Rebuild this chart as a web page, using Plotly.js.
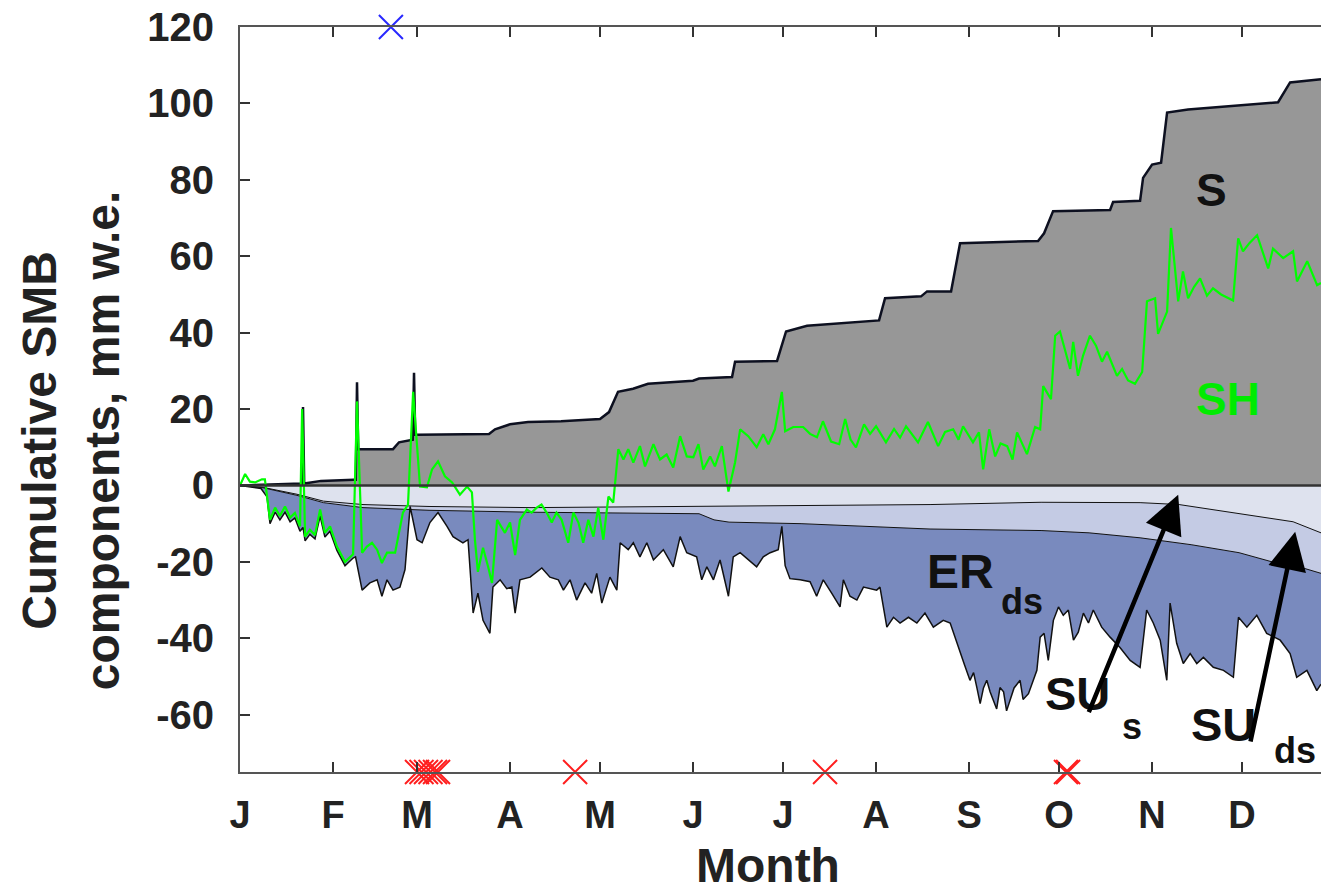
<!DOCTYPE html>
<html>
<head>
<meta charset="utf-8">
<script src="https://cdn.plot.ly/plotly-3.0.1.min.js"></script>
<style>html,body{margin:0;padding:0;background:#fff;}#chart{width:1321px;height:893px;}</style>
</head>
<body>
<div id="chart"></div>
<script>
// ---- data (day of year, mm w.e.) ----
const monthTickDays = [0,31,59,90,120,151,181,212,243,273,304,334];
const monthLabels = ['J','F','M','A','M','J','J','A','S','O','N','D'];
const yTickVals = [-60,-40,-20,0,20,40,60,80,100,120];
const yTickText = ['-60','-40','-20','0','20','40','60','80','100','120'];

// S : cumulative snowfall (grey)
const sDays = [0,18,20,20.6,21,21.4,22,27,38,38.6,39,39.4,40,51,53,57,57.6,58,58.4,59,83,85,90,96,107,120,123,126,131,136,151,153,164,165,179,182,189,213,215,227,229,237,240,266,268,271,290,291,300,301,304,307,309,316,332,346,350,360.3];
const sVals = [0,0.3,0.5,0.5,20.5,0.5,0.6,1.2,1.5,1.5,27,9.5,9.5,9.5,11.3,12,12,29.5,13.3,13.3,13.5,14.7,16,16.6,16.8,17.4,19.2,24.5,25.3,26.6,27.4,28,28.4,32.4,32.6,40.3,41.8,43.2,49,49.5,50.8,50.8,63.4,64,66,71.8,72.1,74.2,74.5,80.5,84,84.5,97.6,98.4,99.5,100.3,105.5,106.3];

// SU_s : cumulative surface sublimation (upper boundary of negative part)
const suSDays = [0,7.7,19,27.8,41,63,97,130,187,230,267,300,313,328,339,351,360.3];
const suSVals = [0,-0.5,-2.3,-4.1,-5,-5.5,-5.8,-5.6,-5.3,-5,-4.4,-4.5,-5,-6.8,-8.1,-9.5,-12.4];

// SU_s + SU_ds : cumulative
const suDsDays = [0,7.7,19,27.8,41,63,97,130,153,158,163,187,230,267,283,300,317,333,344,353,360.3];
const suDsVals = [0,-0.6,-2.6,-4.5,-5.8,-6.5,-7,-7.2,-7.4,-9,-9.6,-10,-11.4,-11.8,-12.4,-13.7,-15.5,-17.6,-20,-21.3,-23];

// SU_s + SU_ds + ER_ds : cumulative (lower jagged boundary)
const totDays = [0,3,7,9,10,11.7,13.3,15,16.7,18.3,20,21,21.7,23.3,25,26.7,28.3,30,32.3,35,37.7,38.5,40.7,43.3,45.7,47.3,49,51,53.3,55,56.7,59,60.7,63.3,66,69,71,74.3,76,77.7,79.3,81,83.3,84.3,86.7,88.9,90.6,91.7,93.3,96.7,100.6,103.3,106.1,107.8,110,112.2,115,117.2,118.9,120.6,123.3,125.6,126.7,129.4,131.1,133.3,135.6,137.8,141.1,144.4,146.7,148.9,152.2,153.9,155.6,157.8,160,162.8,164.4,166.7,169.4,172.2,174.4,176.7,179.4,180.6,181.7,183.3,186.7,190,192.2,194.4,197.2,200,201.1,203.3,205.6,207.8,212.2,213.3,215.6,217.8,220,222.8,225.6,228.3,231.1,234.4,236.7,240,241.5,243.3,244.5,245.6,246.7,247.8,248.9,250,251.1,252.2,253.3,254.5,255.5,256.7,258,260,261,262.8,264,265.6,266.7,268,269.4,271.1,272.8,274.4,276.1,277.8,279.4,281.1,282.8,284.4,287.2,290,293.3,296.7,300,302.2,304.4,306.7,308.9,310,312.2,314.4,316.7,318.9,321.1,324.4,327.8,331.1,332.8,335.6,338.9,342.2,346.7,350,352.2,355.6,358.9,360.3];
const totVals = [0,-0.3,-0.8,-3,-10,-7,-9,-7,-9.5,-8.5,-12,-11,-14.5,-12.8,-14,-8,-13.5,-12,-17,-21,-19,-18.7,-27.4,-25.5,-24.7,-29,-24.7,-27.4,-26.6,-22,-5.5,-14.2,-15,-9.7,-7.1,-10.7,-13.4,-15,-14.2,-33.4,-28.2,-35.3,-38.7,-26.6,-24.7,-27,-26.6,-33.4,-24.7,-24,-21.6,-24,-24.7,-27.4,-24.7,-30,-25.5,-28.2,-23,-30.8,-24,-27.4,-15,-16.8,-15,-18.7,-15,-19.5,-16.8,-21.3,-13.4,-17.6,-18.7,-24.7,-21.3,-24.7,-19.5,-29,-18.7,-17.6,-19.5,-21.3,-18.7,-17.6,-16.8,-10.7,-21,-24.4,-24.7,-25.2,-29,-24.7,-28.2,-31.8,-24.7,-29,-30,-26.6,-27.4,-26.6,-37.1,-34.5,-36,-34.5,-36,-33.4,-37.1,-35.3,-36,-44,-47,-51,-49,-52.9,-57.1,-53,-51,-54,-56.3,-58.5,-52.9,-54,-59,-56.3,-53,-51,-56,-54.5,-52,-48.4,-39.7,-38.7,-45.8,-35.3,-31.8,-34,-32.6,-40.5,-38.4,-33.4,-36,-32.6,-37.1,-39.7,-42.4,-45.8,-47.6,-32.6,-36,-40.5,-51,-30.8,-41.3,-46.6,-44,-46.6,-45,-47.6,-48.4,-50.2,-34.5,-37.1,-34,-38.7,-40.5,-44,-50.2,-48.4,-53.7,-52];

// SH : surface height change (green)
const shDays = [0,1.7,3.3,5,7.3,8.3,10,11.7,13.3,15,16.7,18.3,20,20.7,21.7,23.3,25,26.7,28.3,30,32.3,35,37.7,39,40.7,42.3,44,45.7,47.3,49,51.7,54.3,56,57.7,60,62.3,64,66,68.3,70.7,73.3,75.7,77.3,78.3,79.3,81,82.7,84,85.7,88.3,90,91.7,93.3,95.6,97.2,98.9,100.5,102.2,103.9,105.5,107.2,109.4,111.1,112.8,114.4,116.1,117.8,119.4,121.1,122.8,124.4,126.1,127.8,129.4,131.1,133.3,135,137.8,140,142.2,144.4,146.7,148.9,151.1,152.8,154.4,156.7,158.3,160.6,162.8,165,166.7,169.4,172.2,174.4,176.1,178.3,180.6,181.7,184.4,187.7,190,192.3,194.3,197,199.7,201.7,203.5,205.3,208,210,212,215.3,218,220,222,226,229.3,232.7,235,237.7,239.5,241,244.3,246.3,247.7,249.7,251.7,253.5,255.7,257.5,259,262.3,265,266.7,267.7,270.3,271.7,273.3,275,276.7,277.7,279.3,281,283.3,285.3,287.3,289,292.3,294,296,298.3,300.7,302.3,305,306,309,310.3,312.7,314.3,316,318,320,322.3,324.3,327,331,332.7,334.3,336.5,339,342.7,344.3,347.7,351,352.3,355.7,359,360.3];
const shVals = [0,3,1,0.8,1.6,1.6,-9,-5.8,-8,-5.5,-8.4,-7.2,-10.7,20,-13.4,-11.6,-13,-6.3,-12.4,-10.7,-16,-20,-18,22,-17.6,-16,-15,-16.8,-20.3,-17.6,-17.6,-7.1,-5,24.5,-0.3,-0.5,4.2,6.3,2.4,0.8,-2.4,-0.3,-1.8,-14.2,-22.6,-16.3,-21.3,-25.5,-9,-12.4,-9.7,-18.2,-9,-6.3,-7.1,-5.8,-5,-7.1,-9.7,-7.1,-9,-15,-7.1,-9.7,-15,-9,-13.4,-5.8,-14.2,-2.9,-4.5,9.5,6.8,9.5,6,10.3,5,10.8,6.8,8.1,4.7,12.9,7.6,7.4,10.8,4.2,7.6,5,10.3,-1.6,6,14.7,12.9,10,13.4,10.8,14.7,24.5,14.2,15.3,15.3,13.5,12.6,16.8,11.5,10.8,17.4,12,10,16,13.5,15.5,11.3,14.8,12.5,15.5,11.3,16.6,10.3,14,14.7,12,15.5,11.3,13.9,4.2,14.7,7.6,11,10.3,6.8,13.9,8.2,15.3,14.7,26,22.6,39.2,40.3,35,30.5,37.6,28.7,34,39.2,36.6,32.4,35,28.7,30.5,27.5,26.6,29.7,48.2,49,39.7,45.5,67.4,48.2,56,49,52,54.2,49.7,51.6,50,48.4,64.7,61.3,63.5,65.5,56.8,62,59.5,61.3,53.4,58.7,52.4,53];

// event markers
const redDays = [59,60.5,62,63.5,65,66,111.7,195,275.3,276];
const redLevel = -75;
const blueDays = [50.3];
const blueLevel = 120;

// ---- plot ----
const FONT = 'Liberation Sans, Arial, Helvetica, sans-serif';
const INK = '#222';
const PAD = '\u2009\u2009';

const traces = [
  {x: suSDays, y: suSVals, type:'scatter', mode:'lines', fill:'tozeroy',
   fillcolor:'rgb(222,226,238)', line:{color:'#111', width:1}},
  {x: suDsDays, y: suDsVals, type:'scatter', mode:'lines', fill:'tonexty',
   fillcolor:'rgb(196,203,228)', line:{color:'#111', width:1}},
  {x: totDays, y: totVals, type:'scatter', mode:'lines', fill:'tonexty',
   fillcolor:'rgb(121,138,190)', line:{color:'#111', width:1.5}},
  {x: sDays, y: sVals, type:'scatter', mode:'lines', fill:'tozeroy',
   fillcolor:'rgb(151,151,151)', line:{color:'#0d1020', width:2.5}},
  {x: shDays, y: shVals, type:'scatter', mode:'lines',
   line:{color:'rgb(0,255,0)', width:2.2}},
  {x: redDays, y: redDays.map(()=>redLevel), type:'scatter', mode:'markers', cliponaxis:false,
   marker:{symbol:'x-thin', size:24, line:{color:'rgb(255,30,30)', width:2}}},
  {x: blueDays, y: blueDays.map(()=>blueLevel), type:'scatter', mode:'markers', cliponaxis:false,
   marker:{symbol:'x-thin', size:24, line:{color:'rgb(40,40,255)', width:2}}}
];

const bold = (size, color) => ({family: FONT, size: size, color: color || INK, weight: 'bold'});

const layout = {
  width: 1321, height: 893,
  margin: {l: 240, r: 0, t: 27, b: 121, pad: 0},
  paper_bgcolor: '#fff', plot_bgcolor: '#fff',
  showlegend: false, hovermode: false,
  xaxis: {
    range: [0, 360.3], tickmode:'array', tickvals: monthTickDays, ticktext: monthLabels,
    ticks:'inside', ticklen:10, tickwidth:2, tickcolor:'#333',
    showline:true, linecolor:'#555', linewidth:2, mirror:'ticks',
    showgrid:false, zeroline:false, tickfont: bold(38), ticklabelstandoff: 8
  },
  yaxis: {
    range: [-75, 120], tickmode:'array', tickvals: yTickVals, ticktext: yTickText.map(t => t + PAD),
    ticks:'inside', ticklen:10, tickwidth:2, tickcolor:'#333',
    showline:true, linecolor:'#555', linewidth:2,
    showgrid:false, zeroline:false, tickfont: bold(40)
  },
  shapes: [
    {type:'line', xref:'x', yref:'y', x0:0, x1:360.3, y0:0, y1:0,
     line:{color:'#333', width:2.5}, layer:'above'}
  ],
  annotations: [
    {xref:'paper', yref:'paper', x:-0.157, y:0.4456, text:'Cumulative SMB<br>components, mm w.e.',
     textangle:-90, showarrow:false, xanchor:'center', yanchor:'middle', font: bold(48)},
    {xref:'paper', yref:'paper', x:0.4884, y:-0.126, text:'Month', showarrow:false,
     xanchor:'center', yanchor:'middle', font: bold(48)},
    {x:323.7, y:77.4, text:'S', showarrow:false, font: bold(46, '#111')},
    {x:329.3, y:22.6, text:'SH', showarrow:false, font: bold(46, 'rgb(0,235,0)')},
    {x:240, y:-22.6, text:'ER', showarrow:false, font: bold(48, '#111')},
    {x:260.7, y:-30.5, text:'ds', showarrow:false, font: bold(36, '#111')},
    {x:279, y:-54.5, text:'SU', showarrow:false, font: bold(47, '#111')},
    {x:297.3, y:-63.2, text:'s', showarrow:false, font: bold(36, '#111')},
    {x:327.7, y:-62.6, text:'SU', showarrow:false, font: bold(47, '#111')},
    {x:351.7, y:-69.5, text:'ds', showarrow:false, font: bold(36, '#111')},
    {x:312.7, y:-2.4, ax:282.7, ay:-59.7, axref:'x', ayref:'y', text:'', showarrow:true,
     arrowhead:2, arrowsize:1.7, arrowwidth:4.5, arrowcolor:'#000', standoff:0, startstandoff:0},
    {x:351.7, y:-12.1, ax:336.7, ay:-67.4, axref:'x', ayref:'y', text:'', showarrow:true,
     arrowhead:2, arrowsize:1.7, arrowwidth:4.5, arrowcolor:'#000', standoff:0, startstandoff:0}
  ]
};

Plotly.newPlot('chart', traces, layout, {staticPlot:true, displayModeBar:false});
</script>
</body>
</html>
